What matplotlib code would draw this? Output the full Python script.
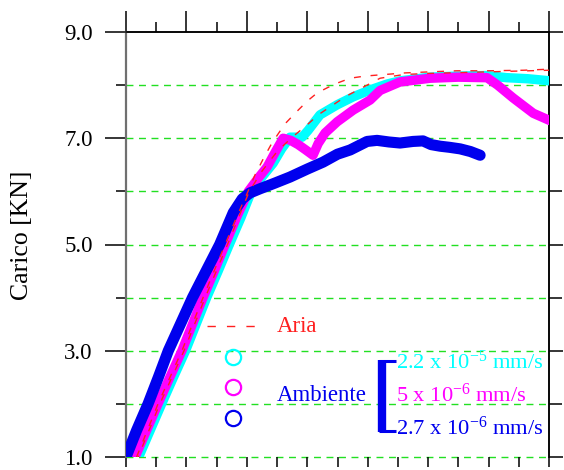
import matplotlib
matplotlib.use("Agg")
import matplotlib.pyplot as plt
from matplotlib.ticker import MultipleLocator, FixedLocator, NullFormatter

plt.rcParams['font.family'] = ['Liberation Serif', 'DejaVu Serif']
plt.rcParams['mathtext.fontset'] = 'custom'
plt.rcParams['mathtext.rm'] = 'Liberation Serif'
plt.rcParams['mathtext.it'] = 'Liberation Serif:italic'

# ---- data ----
cyan_x = [0.42, 0.80, 1.18, 1.57, 1.97, 2.32, 2.67, 3.05, 3.42, 3.80, 4.15, 4.50, 4.87, 5.15, 5.43,
          5.83, 6.03, 6.42, 6.99, 7.52, 8.08, 8.64, 9.07, 10.07, 11.0, 11.95, 12.6, 13.3, 14.04]
cyan_y = [1.00, 1.50, 2.00, 2.50, 3.00, 3.50, 4.00, 4.50, 5.00, 5.50, 6.00, 6.27, 6.53, 6.80, 7.02,
          7.02, 7.15, 7.44, 7.63, 7.78, 7.91, 8.02, 8.08, 8.15, 8.17, 8.18, 8.14, 8.12, 8.08]

mag_x = [0.30, 0.68, 1.06, 1.45, 1.85, 2.20, 2.55, 2.92, 3.28, 3.65, 4.05, 4.35, 4.67, 4.95, 5.20,
         5.45, 5.70, 5.95, 6.19, 6.36, 6.59, 6.99, 7.52, 8.08, 8.41, 9.07, 10.07, 11.0, 11.95,
         12.3, 12.81, 13.48, 14.04]
mag_y = [1.00, 1.50, 2.00, 2.50, 3.00, 3.50, 4.00, 4.50, 5.00, 5.50, 6.00, 6.23, 6.46, 6.75, 7.00,
         6.96, 6.88, 6.78, 6.68, 6.90, 7.10, 7.31, 7.53, 7.72, 7.90, 8.06, 8.13, 8.15, 8.14,
         8.00, 7.76, 7.47, 7.33]

blue_x = [0.00, 0.35, 0.73, 1.07, 1.40, 1.80, 2.20, 2.65, 3.10, 3.55, 3.85, 4.10, 4.44, 4.90, 5.43,
          6.00, 6.52, 7.00, 7.42, 7.70, 7.98, 8.31, 8.70, 9.07, 9.50, 9.83, 10.10, 10.40, 10.70,
          11.06, 11.40, 11.72]
blue_y = [1.00, 1.50, 2.00, 2.50, 3.00, 3.50, 4.00, 4.50, 5.00, 5.60, 5.86, 5.97, 6.05, 6.15, 6.27,
          6.42, 6.55, 6.70, 6.78, 6.86, 6.94, 6.96, 6.93, 6.91, 6.94, 6.95, 6.88, 6.85, 6.83,
          6.80, 6.75, 6.68]

aria1_x = [0.35, 1.06, 1.85, 2.55, 3.28, 3.65, 4.00, 4.27, 4.55, 4.83, 5.26, 5.70, 6.00, 6.32, 6.66,
           7.00, 7.42, 7.90, 8.34, 9.24, 10.07, 10.96, 11.95, 13.15, 14.0]
aria1_y = [1.00, 2.00, 3.00, 4.00, 5.00, 5.50, 5.95, 6.31, 6.62, 6.91, 7.27, 7.53, 7.70, 7.85, 7.95,
           8.04, 8.13, 8.17, 8.19, 8.23, 8.25, 8.27, 8.27, 8.28, 8.30]

aria2_x = [0.40, 1.12, 1.92, 2.62, 3.36, 4.08, 4.50, 5.00, 5.50, 5.99, 6.36, 6.99, 7.35, 7.98, 8.41,
           9.20, 10.0, 12.0, 14.0]
aria2_y = [1.00, 2.00, 3.00, 4.00, 5.00, 6.00, 6.38, 6.75, 7.02, 7.25, 7.44, 7.68, 7.81, 8.00, 8.13,
           8.20, 8.22, 8.25, 8.28]

y_major = [1.0, 3.0, 5.0, 7.0, 9.0]
y_minor = [2.0, 4.0, 6.0, 8.0]
grid_y = [1, 2, 3, 4, 5, 6, 7, 8]

legend_aria = "Aria"
legend_group = "Ambiente"
rate_labels = [r"2.2 x 10$^{-5}$ mm/s", r"5 x 10$^{-6}$ mm/s", r"2.7 x 10$^{-6}$ mm/s"]
ylabel = "Carico [KN]"

CYAN = '#00ffff'
MAG = '#ff00ff'
BLUE = '#0000ee'
RED = '#ff2020'
GREEN = '#22e022'

fig = plt.figure(figsize=(5.64, 4.70), dpi=100)
ax = fig.add_axes([126/564, 1-457/470, (549-126)/564, (457-32)/470])
ax.set_xlim(0, 14)
ax.set_ylim(1, 9)

for gy in grid_y:
    ax.axhline(gy, color=GREEN, lw=1.0, ls=(0, (5, 4)), zorder=1, clip_on=False)

kw = dict(solid_capstyle='round', solid_joinstyle='round')
ax.plot(cyan_x, cyan_y, color=CYAN, lw=6.8, zorder=3, **kw)
ax.plot(mag_x, mag_y, color=MAG, lw=6.8, zorder=4, **kw)
ax.plot(blue_x, blue_y, color=BLUE, lw=8.0, zorder=5, **kw)
ax.plot(aria1_x, aria1_y, color=RED, lw=1.0, ls=(0, (5, 7)), zorder=6)
ax.plot(aria2_x, aria2_y, color=RED, lw=1.0, ls=(4, (5, 7)), zorder=6)

# legend-like annotations
ax.plot([2.68, 4.34], [3.46, 3.46], color=RED, lw=1.0, ls=(0, (6, 8)), zorder=6)
ax.text(5.0, 3.46, legend_aria, color=RED, fontsize=16.5, va='center', ha='left')
for yy, c in zip([2.88, 2.31, 1.73], [CYAN, MAG, BLUE]):
    ax.plot([3.54], [yy], 'o', ms=11, mfc='none', mec=c, mew=1.6, zorder=6)
ax.text(5.0, 2.16, legend_group, color=BLUE, fontsize=16.5, va='center', ha='left')
ax.plot([8.48, 8.48], [1.47, 2.82], color=BLUE, lw=6.0, solid_capstyle='butt', zorder=6)
ax.plot([8.38, 8.95], [2.80, 2.80], color=BLUE, lw=2.2, solid_capstyle='butt', zorder=6)
ax.plot([8.38, 8.95], [1.49, 1.49], color=BLUE, lw=2.2, solid_capstyle='butt', zorder=6)
for yy, c, t in zip([2.79, 2.16, 1.54], [CYAN, MAG, BLUE], rate_labels):
    ax.text(8.92, yy, t, color=c, fontsize=16.2, va='center', ha='left')

# spines
ax.spines['bottom'].set_visible(False)
ax.spines['left'].set_color('#707070')
ax.spines['left'].set_linewidth(1.6)
ax.spines['top'].set_linewidth(1.1)
ax.spines['right'].set_linewidth(1.1)

# left y ticks
ax.yaxis.set_major_locator(FixedLocator(y_major))
ax.yaxis.set_minor_locator(FixedLocator(y_minor))
ax.set_yticklabels([f"{v:.1f}" for v in y_major])
ax.tick_params(axis='y', which='major', direction='out', length=15, width=1.1, labelsize=16.5, pad=9, left=True, right=False)
ax.tick_params(axis='y', which='minor', direction='out', length=7.5, width=1.1, left=True, right=False)

# bottom x ticks
ax.xaxis.set_major_locator(MultipleLocator(1))
ax.xaxis.set_major_formatter(NullFormatter())
ax.tick_params(axis='x', which='major', direction='out', length=7.5, width=1.1, bottom=True, top=False)

# top ticks
sx = ax.secondary_xaxis('top')
sx.xaxis.set_major_locator(MultipleLocator(2))
sx.xaxis.set_minor_locator(MultipleLocator(1))
sx.xaxis.set_major_formatter(NullFormatter())
sx.tick_params(axis='x', which='major', direction='out', length=15, width=1.1)
sx.tick_params(axis='x', which='minor', direction='out', length=7.5, width=1.1)
sx.spines['top'].set_linewidth(1.1)

# right ticks
sy = ax.secondary_yaxis('right')
sy.yaxis.set_major_locator(FixedLocator(y_major))
sy.yaxis.set_minor_locator(FixedLocator(y_minor))
sy.yaxis.set_major_formatter(NullFormatter())
sy.tick_params(axis='y', which='major', direction='out', length=10, width=1.1)
sy.tick_params(axis='y', which='minor', direction='out', length=9, width=1.1)
sy.spines['right'].set_linewidth(1.1)

fig.text(22/564, 1-235/470, ylabel, rotation=90, fontsize=18.5, va='center', ha='center')

fig.savefig("out.png", dpi=100)
